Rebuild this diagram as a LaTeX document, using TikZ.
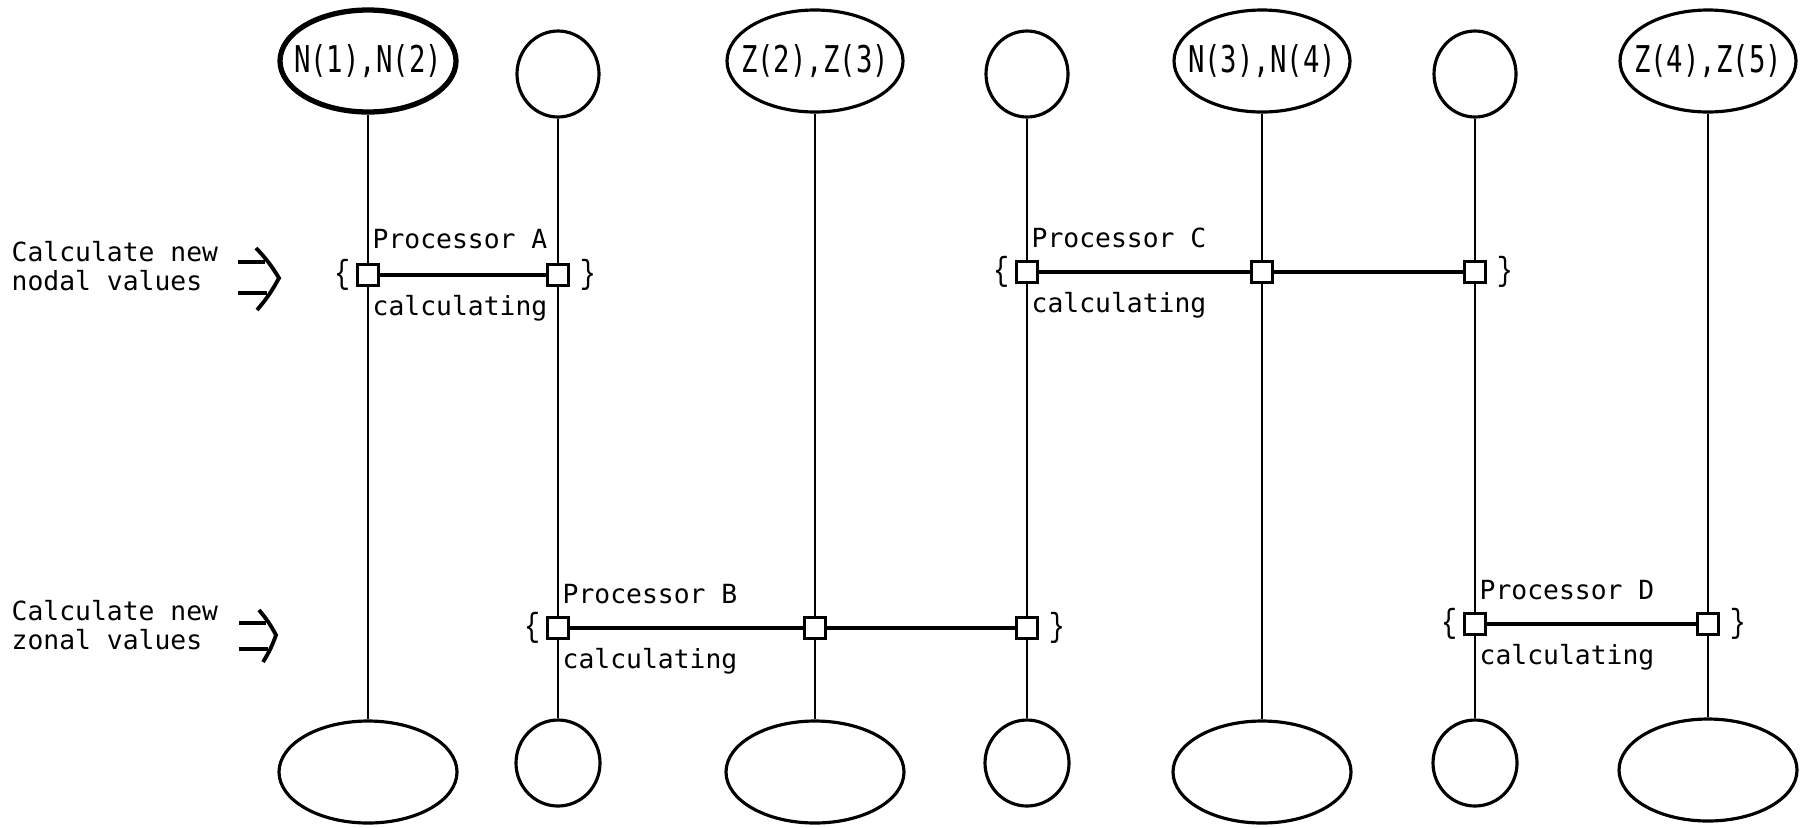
\documentclass[tikz,border=0pt]{standalone}
\usepackage{fontspec}
\usetikzlibrary{shapes.geometric,positioning}
\newfontfamily\gothic{DejaVu Sans Mono}
\newfontfamily\gothicnarrow[FakeStretch=0.74]{DejaVu Sans Mono}
\newfontfamily\bracefont[FakeStretch=0.8]{Liberation Mono}

\begin{document}
\begin{tikzpicture}[x=0.1mm, y=0.1mm,
  every node/.append style={inner sep=0pt},
  wire/.style={line width=0.7pt},
  link/.style={line width=1pt},
  bigell/.style={draw, ellipse, line width=0.9pt, minimum width=1.76cm, minimum height=1.02cm},
  smallell/.style={draw, ellipse, line width=0.9pt, minimum width=0.82cm, minimum height=0.86cm},
  box/.style={draw, fill=white, line width=0.9pt, minimum size=2.1mm},
  lbl/.style={anchor=base west, font=\gothic\fontsize{7.5}{9}\selectfont},
  brc/.style={font=\bracefont\fontsize{9.5}{11}\selectfont},
  vals/.style={font=\gothicnarrow\fontsize{10.5}{12}\selectfont},
  merge/.style={line width=1.1pt}]
\useasboundingbox (0,0) rectangle (1809,-827);

% top row: values held by each column
\node[bigell, line width=1.5pt, label={[vals]center:{N(1),N(2)}}] (t1) at (368,-61) {};
\node[smallell] (t2) at (558,-74) {};
\node[bigell, label={[vals]center:{Z(2),Z(3)}}] (t3) at (815,-61) {};
\node[smallell] (t4) at (1027,-74) {};
\node[bigell, label={[vals]center:{N(3),N(4)}}] (t5) at (1262,-61) {};
\node[smallell] (t6) at (1475,-74) {};
\node[bigell, label={[vals]center:{Z(4),Z(5)}}] (t7) at (1708,-61) {};

% bottom row
\node[bigell, minimum width=1.78cm] (b1) at (368,-772) {};
\node[smallell, minimum width=0.84cm] (b2) at (558,-763) {};
\node[bigell, minimum width=1.78cm] (b3) at (815,-772) {};
\node[smallell, minimum width=0.84cm] (b4) at (1027,-763) {};
\node[bigell, minimum width=1.78cm] (b5) at (1262,-772) {};
\node[smallell, minimum width=0.84cm] (b6) at (1475,-763) {};
\node[bigell, minimum width=1.78cm] (b7) at (1708,-770) {};

% processor taps
\node[box] (pA1) at (368,-275) {};
\node[box] (pA2) at (558,-275) {};
\node[box] (pC1) at (1027,-272) {};
\node[box] (pC2) at (1262,-272) {};
\node[box] (pC3) at (1475,-272) {};
\node[box] (pB1) at (558,-628) {};
\node[box] (pB2) at (815,-628) {};
\node[box] (pB3) at (1027,-628) {};
\node[box] (pD1) at (1475,-624) {};
\node[box] (pD2) at (1708,-624) {};

% columns
\draw[wire] (t1) -- (pA1) -- (b1);
\draw[wire] (t2) -- (pA2) -- (pB1) -- (b2);
\draw[wire] (t3) -- (pB2) -- (b3);
\draw[wire] (t4) -- (pC1) -- (pB3) -- (b4);
\draw[wire] (t5) -- (pC2) -- (b5);
\draw[wire] (t6) -- (pC3) -- (pD1) -- (b6);
\draw[wire] (t7) -- (pD2) -- (b7);

% processors
\draw[link] (pA1) -- (pA2);
\draw[link] (pC1) -- (pC2) -- (pC3);
\draw[link] (pB1) -- (pB2) -- (pB3);
\draw[link] (pD1) -- (pD2);

\node[lbl] (procA) at (372,-248) {Processor A};
\node[lbl] (calcA) at (372,-315) {calculating};
\node[lbl] (procB) at (562,-603) {Processor B};
\node[lbl] (calcB) at (562,-668) {calculating};
\node[lbl] (procC) at (1031,-247) {Processor C};
\node[lbl] (calcC) at (1031,-312) {calculating};
\node[lbl] (procD) at (1479,-599) {Processor D};
\node[lbl] (calcD) at (1479,-664) {calculating};

\node[brc, left=0.5mm of pA1] (openA) {\{};
\node[brc, right=0.9mm of pA2] (closeA) {\}};
\node[brc, left=0.5mm of pB1] (openB) {\{};
\node[brc, right=0.9mm of pB3] (closeB) {\}};
\node[brc, left=0.5mm of pC1] (openC) {\{};
\node[brc, right=0.9mm of pC3] (closeC) {\}};
\node[brc, left=0.5mm of pD1] (openD) {\{};
\node[brc, right=0.9mm of pD2] (closeD) {\}};

% step captions
\node[lbl] (nodal1) at (11,-261) {Calculate new};
\node[lbl] (nodal2) at (11,-290) {nodal values};
\node[lbl] (zonal1) at (11,-620) {Calculate new};
\node[lbl] (zonal2) at (11,-649) {zonal values};

\draw[merge] (238,-262) -- (265,-262);
\draw[merge] (238,-293) -- (267,-293);
\draw[merge] (256,-248) to[bend left=6] (279,-278) to[bend left=6] (257,-310);
\draw[merge] (239,-623) -- (266,-623);
\draw[merge] (239,-649) -- (268,-649);
\draw[merge] (259,-610) to[bend left=6] (276,-635) to[bend left=6] (263,-662);
\end{tikzpicture}
\end{document}
